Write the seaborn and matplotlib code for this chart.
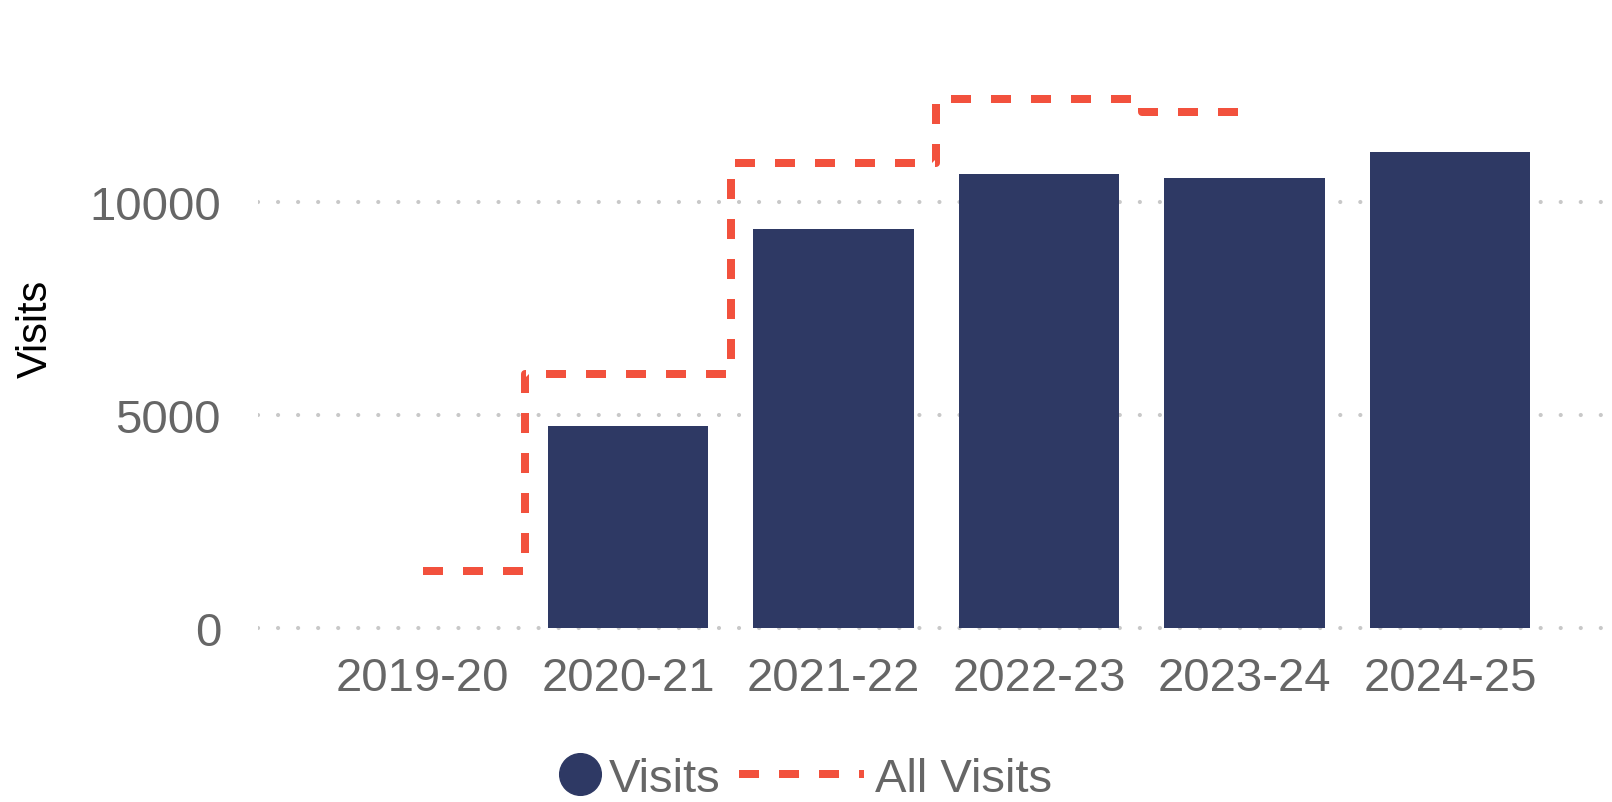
import numpy as np
import pandas as pd
import matplotlib
matplotlib.use("Agg")
import matplotlib.pyplot as plt
from matplotlib.lines import Line2D
import seaborn as sns

# Season labels along the x axis
seasons = ["2019-20", "2020-21", "2021-22", "2022-23", "2023-24", "2024-25"]
# Visits per season (no bar for 2019-20)
visits = [np.nan, 4740, 9360, 10650, 10555, 11165]
# All visits, shown as a dashed step line (2019-20 .. 2023-24)
all_visits = [1340, 5960, 10910, 12410, 12100]
# Y axis ticks
y_ticks = [0, 5000, 10000]

NAVY = "#2E3964"
RED = "#F2513D"
GREY_TEXT = "#666666"
GRID = "#C8C8C8"

sns.set_theme(style="white")
plt.rcParams["font.family"] = ["Liberation Sans", "DejaVu Sans"]

W, H, DPI = 1612, 803, 100
fig = plt.figure(figsize=(W / DPI, H / DPI), dpi=DPI)

# Axes layout (pixels) and data limits
ymin, ymax = -150, 13500
px_per_unit = 213.3 / 5000
zero_px = 629.3
ax_left, ax_right = 258, 1605
ax_bottom = zero_px - ymin * px_per_unit
ax_height = (ymax - ymin) * px_per_unit
ax = fig.add_axes([ax_left / W, 1 - ax_bottom / H,
                   (ax_right - ax_left) / W, ax_height / H])

df = pd.DataFrame({"Season": seasons, "Visits": visits})
sns.barplot(data=df, x="Season", y="Visits", order=seasons, color=NAVY,
            saturation=1, width=0.78, errorbar=None, linewidth=0,
            ax=ax, zorder=2)

sns.lineplot(x=np.arange(len(all_visits)), y=all_visits, ax=ax,
             drawstyle="steps-mid", color=RED, linewidth=5.76,
             linestyle=(0, (2.5, 2.5)), zorder=3)

spacing = 205.5
center0 = 422.5
ax.set_xlim((ax_left - center0) / spacing, (ax_right - center0) / spacing)
ax.set_ylim(ymin, ymax)

ax.set_yticks(y_ticks)
ax.set_yticklabels([str(v) for v in y_ticks])
ax.tick_params(axis="both", length=0, labelsize=34, labelcolor=GREY_TEXT)
ax.tick_params(axis="y", pad=26.6)
ax.tick_params(axis="x", pad=15)

ax.set_axisbelow(True)
ax.xaxis.grid(False)
ax.yaxis.grid(True, color=GRID, linewidth=3.0, linestyle=(0, (0.01, 4.8)),
              dash_capstyle="round")
for s in ax.spines.values():
    s.set_visible(False)

ax.set_xlabel("")
ax.set_ylabel("Visits", fontsize=30, color="black")
ax.yaxis.set_label_coords(56 / W, 1 - 329 / H, transform=fig.transFigure)

# Legend: two entries laid out side by side below the plot
fs_px = 34 * DPI / 72
leg1 = fig.legend(handles=[Line2D([], [], marker="o", linestyle="none",
                                  markersize=30, color=NAVY)],
                  labels=["Visits"], loc="center left",
                  bbox_to_anchor=(560 / W, 1 - 780 / H), frameon=False,
                  fontsize=34, labelcolor=GREY_TEXT,
                  handlelength=40 / fs_px, handletextpad=0.19,
                  borderpad=0, borderaxespad=0)
leg2 = fig.legend(handles=[Line2D([], [], color=RED, linewidth=5.76,
                                  linestyle=(0, (2.5, 2.5)))],
                  labels=["All Visits"], loc="center left",
                  bbox_to_anchor=(739 / W, 1 - 780 / H), frameon=False,
                  fontsize=34, labelcolor=GREY_TEXT,
                  handlelength=125 / fs_px, handletextpad=11 / fs_px,
                  borderpad=0, borderaxespad=0)

fig.savefig("out.png", dpi=DPI)
